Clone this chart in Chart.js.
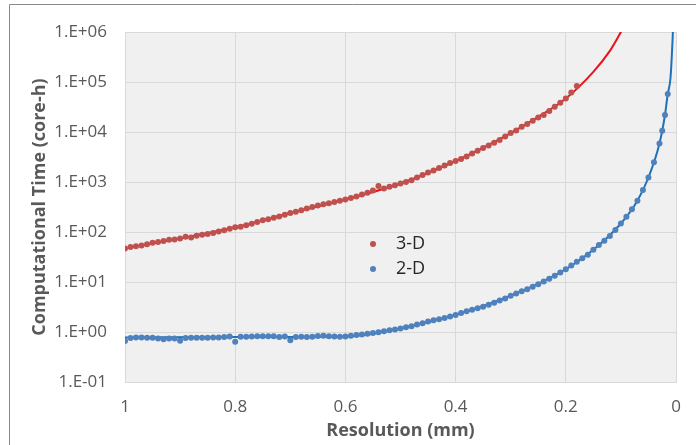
<!DOCTYPE html>
<html>
<head>
<meta charset="utf-8">
<script src="https://cdn.jsdelivr.net/npm/chart.js@4"></script>
<style>
  body { margin: 0; background: #fff; }
</style>
</head>
<body>
<canvas id="resChart" width="696" height="445"></canvas>
<script>
// 3-D runs: resolution (mm) and computational time (core-h)
const res3D = [1.00, 0.99, 0.98, 0.97, 0.96, 0.95, 0.94, 0.93, 0.92, 0.91,
  0.90, 0.89, 0.88, 0.87, 0.86, 0.85, 0.84, 0.83, 0.82, 0.81,
  0.80, 0.79, 0.78, 0.77, 0.76, 0.75, 0.74, 0.73, 0.72, 0.71,
  0.70, 0.69, 0.68, 0.67, 0.66, 0.65, 0.64, 0.63, 0.62, 0.61,
  0.60, 0.59, 0.58, 0.57, 0.56, 0.55, 0.54, 0.53, 0.52, 0.51,
  0.50, 0.49, 0.48, 0.47, 0.46, 0.45, 0.44, 0.43, 0.42, 0.41,
  0.40, 0.39, 0.38, 0.37, 0.36, 0.35, 0.34, 0.33, 0.32, 0.31,
  0.30, 0.29, 0.28, 0.27, 0.26, 0.25, 0.24, 0.23, 0.22, 0.21,
  0.20, 0.19, 0.18];
const time3D = [47, 50, 52, 54, 57, 61, 63, 66, 70, 71,
  74, 80, 78, 84, 88, 91, 96, 102, 109, 116,
  124, 128, 137, 146, 158, 172, 180, 192, 205, 222,
  240, 255, 272, 295, 318, 340, 358, 375, 400, 420,
  447, 478, 515, 560, 610, 676, 830, 740, 800, 860,
  933, 1000, 1090, 1230, 1380, 1550, 1700, 1900, 2150, 2400,
  2630, 2900, 3250, 3700, 4200, 4790, 5400, 6100, 6900, 8100,
  9500, 10700, 12800, 14500, 16800, 19500, 22000, 26300, 32000, 38600,
  46800, 62000, 83000];

// 2-D runs
const res2D = [1.00, 0.99, 0.98, 0.97, 0.96, 0.95, 0.94, 0.93, 0.92, 0.91,
  0.90, 0.89, 0.88, 0.87, 0.86, 0.85, 0.84, 0.83, 0.82, 0.81,
  0.80, 0.79, 0.78, 0.77, 0.76, 0.75, 0.74, 0.73, 0.72, 0.71,
  0.70, 0.69, 0.68, 0.67, 0.66, 0.65, 0.64, 0.63, 0.62, 0.61,
  0.60, 0.59, 0.58, 0.57, 0.56, 0.55, 0.54, 0.53, 0.52, 0.51,
  0.50, 0.49, 0.48, 0.47, 0.46, 0.45, 0.44, 0.43, 0.42, 0.41,
  0.40, 0.39, 0.38, 0.37, 0.36, 0.35, 0.34, 0.33, 0.32, 0.31,
  0.30, 0.29, 0.28, 0.27, 0.26, 0.25, 0.24, 0.23, 0.22, 0.21,
  0.20, 0.19, 0.18, 0.17, 0.16, 0.15, 0.14, 0.13, 0.12, 0.11,
  0.10, 0.09, 0.08, 0.07, 0.06, 0.05, 0.04, 0.03, 0.025, 0.02, 0.015];
const time2D = [0.66, 0.76, 0.78, 0.78, 0.77, 0.77, 0.74, 0.72, 0.74, 0.74,
  0.67, 0.76, 0.77, 0.77, 0.77, 0.77, 0.78, 0.78, 0.79, 0.81,
  0.64, 0.80, 0.80, 0.81, 0.82, 0.82, 0.82, 0.82, 0.79, 0.81,
  0.68, 0.79, 0.80, 0.79, 0.80, 0.83, 0.84, 0.82, 0.81, 0.80,
  0.81, 0.84, 0.87, 0.89, 0.92, 0.96, 0.99, 1.04, 1.08, 1.12,
  1.18, 1.24, 1.30, 1.42, 1.50, 1.62, 1.72, 1.80, 1.90, 2.05,
  2.20, 2.40, 2.60, 2.80, 3.00, 3.20, 3.50, 3.85, 4.25, 4.70,
  5.30, 5.90, 6.50, 7.20, 8.00, 9.00, 10.2, 11.6, 13.3, 15.5,
  18.0, 21.5, 25.5, 30, 35, 44, 55, 67, 83, 110,
  148, 203, 284, 423, 692, 1230, 2480, 5900, 10600, 21900, 57500];

// fitted trend curves
const trendRes3D = [1.0, 0.9, 0.8, 0.7, 0.6, 0.5, 0.4, 0.3, 0.25, 0.2, 0.15, 0.12, 0.1, 0.09];
const trendTime3D = [47, 74, 124, 240, 447, 933, 2630, 9500, 20000, 46800, 160000, 420000, 1000000, 1600000];
const trendRes2D = [1.0, 0.8, 0.6, 0.5, 0.4, 0.3, 0.2, 0.15, 0.1, 0.07, 0.05, 0.03, 0.02, 0.015, 0.01, 0.006, 0.004];
const trendTime2D = [0.78, 0.79, 0.81, 1.18, 2.2, 5.3, 18, 44, 148, 423, 1230, 5900, 21900, 57500, 120000, 800000, 3000000];

const xTickValues = [0, 0.2, 0.4, 0.6, 0.8, 1];
const xTickLabels = ["0", "0.2", "0.4", "0.6", "0.8", "1"];
const yTickValues = [0.1, 1, 10, 100, 1000, 10000, 100000, 1000000];
const yTickLabels = ["1.E-01", "1.E+00", "1.E+01", "1.E+02", "1.E+03", "1.E+04", "1.E+05", "1.E+06"];

function toPoints(xs, ys) {
  return xs.map((x, i) => ({ x: x, y: ys[i] }));
}

Chart.defaults.font.family = "'Open Sans', sans-serif";

// grey plot background
const plotBackground = {
  id: "plotBackground",
  beforeDraw(chart) {
    const { ctx, chartArea: a } = chart;
    ctx.save();
    ctx.fillStyle = "#f0f0f0";
    ctx.fillRect(a.left, a.top, a.right - a.left, a.bottom - a.top);
    ctx.restore();
  },
};

// outer frame (only left and top edges show in the picture)
const outerFrame = {
  id: "outerFrame",
  afterDraw(chart) {
    const ctx = chart.ctx;
    ctx.save();
    ctx.strokeStyle = "#8a8a8a";
    ctx.lineWidth = 1;
    ctx.beginPath();
    ctx.moveTo(9.5, 445);
    ctx.lineTo(9.5, 4.5);
    ctx.lineTo(696, 4.5);
    ctx.stroke();
    ctx.restore();
  },
};

// legend sitting inside the plot
const insideLegend = {
  id: "insideLegend",
  afterDraw(chart) {
    const ctx = chart.ctx;
    const items = [
      { ds: chart.data.datasets[0], y: 244 },
      { ds: chart.data.datasets[1], y: 269 },
    ];
    ctx.save();
    ctx.font = "18px 'Open Sans', sans-serif";
    ctx.textBaseline = "middle";
    ctx.textAlign = "left";
    items.forEach((it) => {
      ctx.fillStyle = it.ds.backgroundColor;
      ctx.beginPath();
      ctx.arc(373, it.y, 3, 0, Math.PI * 2);
      ctx.fill();
      ctx.fillStyle = "#262626";
      ctx.fillText(it.ds.label, 396, it.y);
    });
    ctx.restore();
  },
};

const config = {
  type: "scatter",
  data: {
    datasets: [
      {
        label: "3-D",
        data: toPoints(res3D, time3D),
        backgroundColor: "#c0504d",
        borderColor: "#c0504d",
        pointRadius: 3,
        pointBorderWidth: 0,
        order: 1,
      },
      {
        label: "2-D",
        data: toPoints(res2D, time2D),
        backgroundColor: "#4f81bd",
        borderColor: "#4f81bd",
        pointRadius: 3,
        pointBorderWidth: 0,
        order: 1,
      },
      {
        label: "3-D trend",
        data: toPoints(trendRes3D, trendTime3D),
        showLine: true,
        borderColor: "#e8141a",
        borderWidth: 2,
        pointRadius: 0,
        cubicInterpolationMode: "monotone",
        order: 2,
      },
      {
        label: "2-D trend",
        data: toPoints(trendRes2D, trendTime2D),
        showLine: true,
        borderColor: "#1f72b8",
        borderWidth: 2,
        pointRadius: 0,
        cubicInterpolationMode: "monotone",
        order: 2,
      },
    ],
  },
  options: {
    responsive: false,
    animation: false,
    devicePixelRatio: 1,
    layout: { padding: { left: 9, top: 32, right: 20, bottom: 0 } },
    plugins: {
      legend: { display: false },
      tooltip: { enabled: false },
    },
    scales: {
      x: {
        type: "linear",
        reverse: true,
        min: 0,
        max: 1,
        afterBuildTicks: (scale) => {
          scale.ticks = xTickValues.map((v) => ({ value: v }));
        },
        afterFit: (scale) => {
          scale.height = 63;
        },
        ticks: {
          padding: 15,
          color: "#595959",
          font: { size: 17 },
          callback: (v) => xTickLabels[xTickValues.indexOf(v)],
        },
        grid: { color: "#d9d9d9", drawTicks: false },
        border: { color: "#d9d9d9" },
        title: {
          display: true,
          text: "Resolution (mm)",
          color: "#595959",
          font: { size: 18, weight: "bold" },
          padding: { top: 0, bottom: 3 },
        },
      },
      y: {
        type: "logarithmic",
        min: 0.1,
        max: 1000000,
        afterBuildTicks: (scale) => {
          scale.ticks = yTickValues.map((v) => ({ value: v }));
        },
        afterFit: (scale) => {
          scale.width = 116;
        },
        ticks: {
          padding: 18,
          color: "#595959",
          font: { size: 17 },
          callback: (v) => yTickLabels[yTickValues.indexOf(v)],
        },
        grid: { color: "#d9d9d9", drawTicks: false },
        border: { color: "#d9d9d9" },
        title: {
          display: true,
          text: "Computational Time (core-h)",
          color: "#595959",
          font: { size: 18, weight: "bold" },
          padding: { top: 20, bottom: 0 },
        },
      },
    },
  },
  plugins: [plotBackground, outerFrame, insideLegend],
};

const resChart = new Chart(document.getElementById("resChart"), config);
</script>
</body>
</html>
